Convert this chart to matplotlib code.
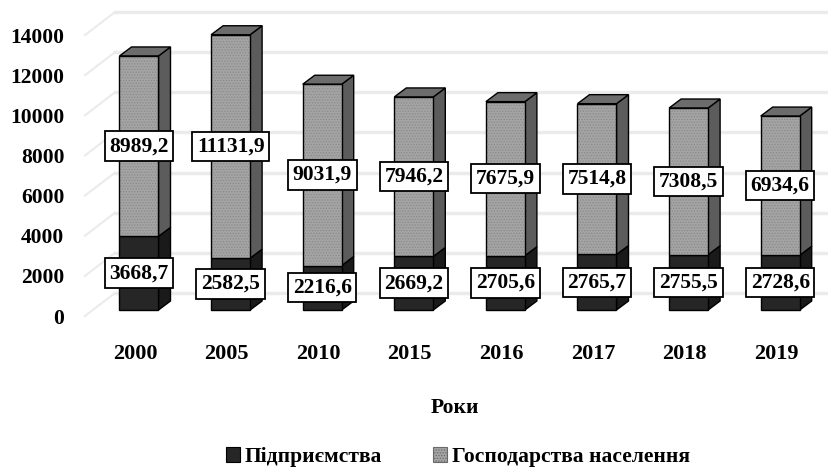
import matplotlib.pyplot as plt
import matplotlib.transforms as mtransforms
from matplotlib.patches import Polygon, Patch

years = ['2000', '2005', '2010', '2015', '2016', '2017', '2018', '2019']
enterprises = [3668.7, 2582.5, 2216.6, 2669.2, 2705.6, 2765.7, 2755.5, 2728.6]
households = [8989.2, 11131.9, 9031.9, 7946.2, 7675.9, 7514.8, 7308.5, 6934.6]
y_ticks = [0, 2000, 4000, 6000, 8000, 10000, 12000, 14000]

plt.rcParams['font.family'] = ['Liberation Serif', 'DejaVu Serif']
plt.rcParams['font.weight'] = 'bold'
plt.rcParams['hatch.linewidth'] = 0.6

# pixel geometry of the reference (dpi 100)
px_cat = 91.6      # px per category
px_val = 20.07     # px per 1000
ax_left, ax_right, ax_top, ax_bottom = 70, 829, 5, 330
x0_px, base_px = 139, 310

fig = plt.figure(figsize=(8.29, 4.70), dpi=100)
ax = fig.add_axes([ax_left / 829, (470 - ax_bottom) / 470,
                   (ax_right - ax_left) / 829, (ax_bottom - ax_top) / 470])
ax.set_xlim(-(x0_px - ax_left) / px_cat, 7 + (ax_right - (x0_px + 7 * px_cat)) / px_cat)
ax.set_ylim(-(ax_bottom - base_px) / px_val * 1000, (base_px - ax_top) / px_val * 1000)


def dx(px):
    return px / px_cat


def dy(px):
    return px / px_val * 1000


# back wall grid + slanted side lines
grid_c = '#ebebeb'
x_front, x_back = dx(85 - x0_px), dx(115 - x0_px)
for v in y_ticks:
    ax.plot([x_front, x_back], [v - dy(6), v + dy(17)], color=grid_c, lw=1.5, zorder=0)
    ax.plot([x_back, ax.get_xlim()[1]], [v + dy(17), v + dy(17)], color=grid_c, lw=2.5, zorder=0)

w = dx(39)
ddx, ddy = dx(12), dy(9)
xs = list(range(len(years)))

dark_front, dark_side = '#262626', '#1a1a1a'
gray_front, gray_side, gray_top = '#a4a4a4', '#5c5c5c', '#6c6c6c'

for i in xs:
    b1, h1 = 0, enterprises[i]
    b2, h2 = enterprises[i], households[i]
    top = b2 + h2
    # side faces
    ax.add_patch(Polygon([(i + w / 2, b1), (i + w / 2 + ddx, b1 + ddy),
                          (i + w / 2 + ddx, b1 + h1 + ddy), (i + w / 2, b1 + h1)],
                         closed=True, facecolor=dark_side, edgecolor='black', lw=1, zorder=2))
    ax.add_patch(Polygon([(i + w / 2, b2), (i + w / 2 + ddx, b2 + ddy),
                          (i + w / 2 + ddx, top + ddy), (i + w / 2, top)],
                         closed=True, facecolor=gray_side, edgecolor='black', lw=1, zorder=2))
    # top face
    ax.add_patch(Polygon([(i - w / 2, top), (i - w / 2 + ddx, top + ddy),
                          (i + w / 2 + ddx, top + ddy), (i + w / 2, top)],
                         closed=True, facecolor=gray_top, edgecolor='black', lw=1, zorder=2))

# front faces
ax.bar(xs, enterprises, width=w, color=dark_front, edgecolor='black', lw=1, zorder=3)
ax.bar(xs, households, width=w, bottom=enterprises, color=gray_front,
       hatch='......', edgecolor='#8a8a8a', lw=0, zorder=3)
ax.bar(xs, households, width=w, bottom=enterprises, fill=False,
       edgecolor='black', lw=1, zorder=3)

fs = 15.5
box = dict(boxstyle='square,pad=0.22', facecolor='white', edgecolor='black', lw=1.3)
for i in xs:
    ax.text(i, enterprises[i] / 2, f"{enterprises[i]:.1f}".replace('.', ','),
            ha='center', va='center', fontsize=fs, fontweight='bold', bbox=box, zorder=5)
    ax.text(i, enterprises[i] + households[i] / 2, f"{households[i]:.1f}".replace('.', ','),
            ha='center', va='center', fontsize=fs, fontweight='bold', bbox=box, zorder=5)

# ticks
ax.set_yticks(y_ticks)
ax.set_yticklabels([str(v) for v in y_ticks], fontsize=fs, fontweight='bold')
ax.set_xticks(xs)
ax.set_xticklabels(years, fontsize=16, fontweight='bold')
ax.tick_params(axis='y', length=0, pad=4)
ax.tick_params(axis='x', length=0, pad=10)
shift_y = mtransforms.ScaledTranslation(0, -6 / 100, fig.dpi_scale_trans)
for lab in ax.get_yticklabels():
    lab.set_transform(lab.get_transform() + shift_y)
shift_x = mtransforms.ScaledTranslation(-4 / 100, 0, fig.dpi_scale_trans)
for lab in ax.get_xticklabels():
    lab.set_transform(lab.get_transform() + shift_x)
for s in ax.spines.values():
    s.set_visible(False)

fig.text(455 / 829, 1 - 408 / 470, 'Роки', ha='center', va='center',
         fontsize=fs, fontweight='bold')

handles = [Patch(facecolor=dark_front, edgecolor='black', lw=0.8),
           Patch(facecolor=gray_front, edgecolor='#6a6a6a', lw=0.8, hatch='......')]
fig.legend(handles, ['Підприємства', 'Господарства населення'], loc='center',
           bbox_to_anchor=(458 / 829, 1 - 457 / 470), ncol=2, frameon=False,
           prop={'size': fs, 'weight': 'bold'}, handlelength=0.65, handleheight=0.65,
           handletextpad=0.2, columnspacing=2.4, borderpad=0)

fig.savefig('out.png', dpi=100)
